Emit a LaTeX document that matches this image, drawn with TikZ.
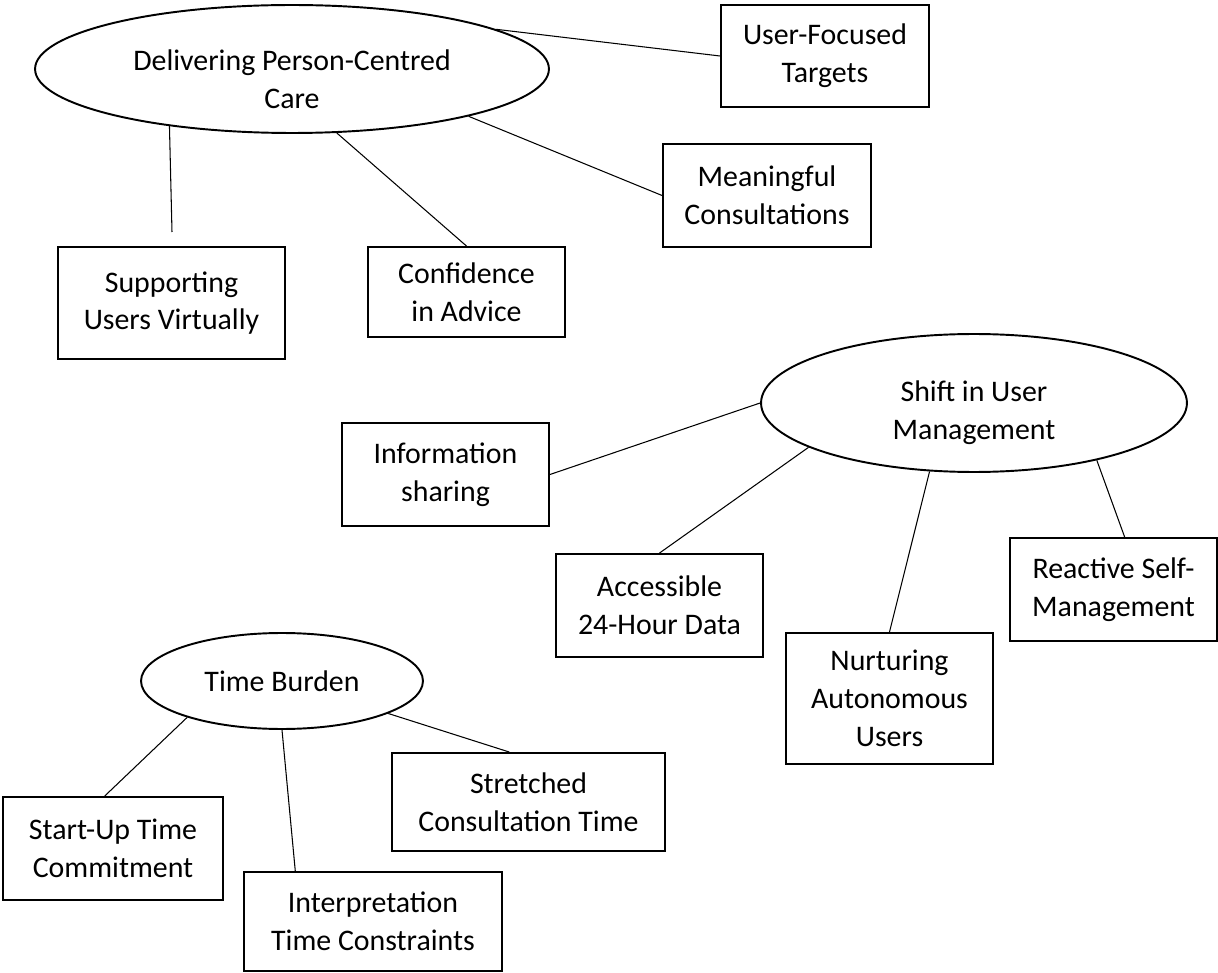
\documentclass[tikz,border=0pt]{standalone}
\usepackage{fontspec}
\setmainfont{Carlito}
\usetikzlibrary{shapes.geometric}

\begin{document}
\begin{tikzpicture}[x=0.02cm,y=-0.02cm,
	every node/.style={font=\fontsize{17}{21.5}\selectfont, align=center, inner sep=0pt},
	theme/.style={draw, ellipse, line width=1.1pt},
	themetext/.style={label={[yshift=-0.2cm]center:#1}},
	subtheme/.style={draw, rectangle, line width=1.1pt},
	link/.style={line width=0.6pt}]
	\useasboundingbox (0,0) rectangle (1218,973);
	\node[theme, minimum width=10.28cm, minimum height=2.56cm, themetext={Delivering Person-Centred\\Care}] (dpc) at (292,69) {};
	\node[subtheme, minimum width=4.16cm, minimum height=2.04cm] (uft) at (825,56) {User-Focused\\Targets};
	\node[subtheme, minimum width=4.16cm, minimum height=2.06cm] (mc) at (767,195.5) {Meaningful\\Consultations};
	\node[subtheme, minimum width=4.54cm, minimum height=2.24cm] (suv) at (171.5,303) {Supporting\\Users Virtually};
	\node[subtheme, minimum width=3.94cm, minimum height=1.80cm] (cia) at (466.5,292) {Confidence\\in Advice};
	\coordinate (suvend) at (172,232);
	\draw[link] (dpc.11) -- (uft.west);
	\draw[link] (dpc.345) -- (mc.west);
	\draw[link] (dpc.305) -- (cia.north);
	\draw[link] (dpc.205) -- (suvend);

	\node[theme, minimum width=8.52cm, minimum height=2.76cm, themetext={Shift in User\\Management}] (sum) at (974,403) {};
	\node[subtheme, minimum width=4.14cm, minimum height=2.06cm] (is) at (445.5,474.5) {Information\\sharing};
	\node[subtheme, minimum width=4.14cm, minimum height=2.06cm] (ahd) at (659.5,605.5) {Accessible\\24-Hour Data};
	\node[subtheme, minimum width=4.14cm, minimum height=2.62cm] (nau) at (889.5,698.5) {Nurturing\\Autonomous\\Users};
	\node[subtheme, minimum width=4.14cm, minimum height=2.06cm] (rsm) at (1113.5,589.5) {Reactive Self-\\Management};
	\draw[link] (sum.west) -- (is.east);
	\draw[link] (sum.195) -- (ahd.north);
	\draw[link] (sum.237) -- (nau.north);
	\draw[link] (sum.335) -- (rsm.78);

	\node[theme, minimum width=5.64cm, minimum height=1.92cm] (tb) at (282,681) {Time Burden};
	\node[subtheme, minimum width=4.40cm, minimum height=2.06cm] (sutc) at (113,848.5) {Start-Up Time\\Commitment};
	\node[subtheme, minimum width=5.16cm, minimum height=1.98cm] (itc) at (373,921.5) {Interpretation\\Time Constraints};
	\node[subtheme, minimum width=5.46cm, minimum height=1.96cm] (sct) at (528.5,802) {Stretched\\Consultation Time};
	\draw[link] (tb.201) -- (sutc.99);
	\draw[link] (tb.south) -- (itc.147);
	\draw[link] (tb.343) -- (sct.111);
\end{tikzpicture}
\end{document}
